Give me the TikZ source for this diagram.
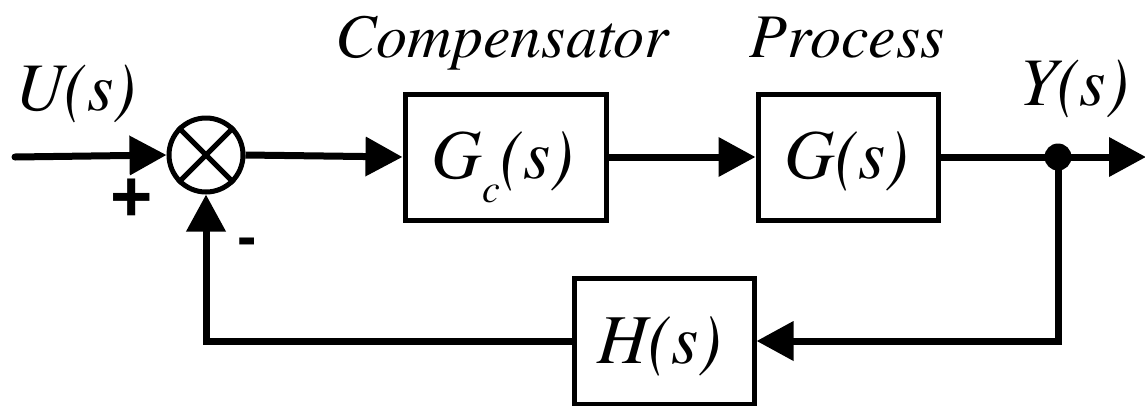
\documentclass[tikz,border=0pt]{standalone}
\usepackage{fontspec}
\newfontfamily\tnr{TeX Gyre Termes}
\newfontfamily\signfont{Liberation Sans}
\usetikzlibrary{arrows.meta}
\begin{document}
\begin{tikzpicture}[x=1pt,y=-1pt,
  blk/.style={draw,line width=5pt,rectangle,minimum width=180pt,minimum height=126pt,inner sep=0pt},
  wire/.style={line width=7pt},
  arr/.style={wire,-{Triangle[length=37pt,width=38pt]}},
  lbl/.style={font=\tnr\itshape\fontsize{62}{70}\selectfont,anchor=base,inner sep=0pt},
  sig/.style={font=\tnr\itshape\fontsize{68}{76}\selectfont,anchor=base,inner sep=0pt},
  inblk/.style={font=\tnr\itshape\fontsize{70}{78}\selectfont,anchor=base,inner sep=0pt},
  sgn/.style={font=\signfont\bfseries\fontsize{58}{62}\selectfont,inner sep=0pt}]
\useasboundingbox (0,0) rectangle (1145,405);
% blocks
\node[draw,circle,line width=5pt,minimum size=74pt,inner sep=0pt] (sum) at (206,155) {};
\draw[line width=5pt] (sum.45) -- (sum.225) (sum.135) -- (sum.315);
\node[blk,minimum width=201pt] (gc) at (505.5,157) {};
\node[blk] (g) at (848,157) {};
\node[blk] (h) at (664,341) {};
\node[circle,fill,minimum size=27pt,inner sep=0pt] (dot) at (1058,157) {};
\coordinate (in) at (15,157);
\coordinate (out) at (1146,157);
\coordinate (c1) at (1058,341);
\coordinate (c2) at (206,341);
% texts
\node[inblk] (tgc) at (503,178) {G\raisebox{-24pt}{\fontsize{40}{40}\selectfont c}(s)};
\node[inblk] (tg) at (847,178) {G(s)};
\node[inblk] (th) at (660,363) {H(s)};
\node[lbl] (tcomp) at (502,57) {Compensator};
\node[lbl] (tproc) at (847,57) {Process};
\node[sig] (tu) at (76,110) {U(s)};
\node[sig] (ty) at (1074,105) {Y(s)};
\node[sgn,scale=1.25] (plus) at (132,200) {+};
\node[sgn] (minus) at (247,247) {-};
% connectors
\draw[arr,line cap=round] (in) -- (sum.west);
\draw[arr] (sum.east) -- (gc.west);
\draw[arr] (gc.east) -- (g.west);
\draw[wire] (g.east) -- (dot.center);
\draw[arr] (dot.center) -- (out);
\draw[arr] (dot.center) -- (c1) -- (h.east);
\draw[arr] (h.west) -- (c2) -- (sum.south);
\end{tikzpicture}
\end{document}
